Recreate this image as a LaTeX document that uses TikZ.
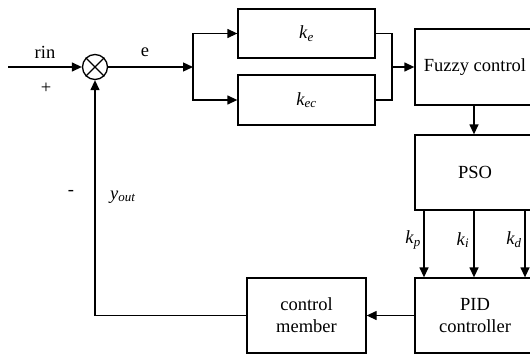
\documentclass[tikz,border=0pt]{standalone}
\usepackage{fontspec}
\setmainfont{Liberation Serif}
\usetikzlibrary{arrows.meta}
\begin{document}
\begin{tikzpicture}[x=1pt,y=-1pt,
  line width=1.3pt,
  every node/.style={font=\fontsize{18.5}{22}\selectfont},
  blk/.style={draw, line width=1.3pt, inner sep=0pt, align=center},
  arr/.style={-{Triangle[length=10pt,width=9pt]}},
  lbl/.style={inner sep=0pt}]
\clip (0,0) rectangle (530,354);
\node[blk, minimum width=137pt, minimum height=49pt] (ke) at (306.5,33.5) {\textit{k}\textsubscript{\textit{e}}};
\node[blk, minimum width=137pt, minimum height=50pt] (kec) at (306.5,100) {\textit{k}\textsubscript{\textit{ec}}};
\node[blk, minimum width=120pt, minimum height=76pt] (fuzzy) at (475,67) {Fuzzy control};
\node[blk, minimum width=120pt, minimum height=75pt] (pso) at (475,172.5) {PSO};
\node[blk, minimum width=120pt, minimum height=75pt] (pid) at (475,315.5) {PID\\controller};
\node[blk, minimum width=119pt, minimum height=75pt] (cm) at (306.5,315.5) {control\\member};
\node[draw, circle, minimum size=25pt, inner sep=0pt, line width=1.3pt] (sum) at (95,67) {};
\draw (sum.45) -- (sum.225) (sum.135) -- (sum.315);
\coordinate (in) at (8,67);
\coordinate (split) at (193,67);
\coordinate (join) at (392,67);
% input
\draw[arr] (in) -- (sum);
\draw[arr] (sum) -- (split);
\draw[arr] (split) |- (ke.west);
\draw[arr] (split) |- (kec.west);
\draw (ke.east) -| (join);
\draw (kec.east) -| (join);
\draw[arr] (join) -- (fuzzy.west);
\draw[arr] (fuzzy.south -| 474,0) -- (pso.north -| 474,0);
\draw[arr] (pso.south -| 424,0) -- (pid.north -| 424,0);
\draw[arr] (pso.south -| 474,0) -- (pid.north -| 474,0);
\draw[arr] (pso.south -| 525,0) -- (pid.north -| 525,0);
\draw[arr] (pid.west) -- (cm.east);
\draw[arr] (cm.west) -| (sum.south);
% labels
\node[lbl] (rin) at (45,52) {rin};
\node[lbl] (plus) at (46,88) {+};
\node[lbl] (e) at (145,52) {e};
\node[lbl] (minus) at (71,193) {-};
\node[lbl] (yout) at (123,197) {\textit{y}\textsubscript{\textit{out}}};
\node[lbl] (kp) at (413,240) {\textit{k}\textsubscript{\textit{p}}};
\node[lbl] (ki) at (463,240) {\textit{k}\textsubscript{\textit{i}}};
\node[lbl] (kd) at (514,240) {\textit{k}\textsubscript{\textit{d}}};
\end{tikzpicture}
\end{document}
